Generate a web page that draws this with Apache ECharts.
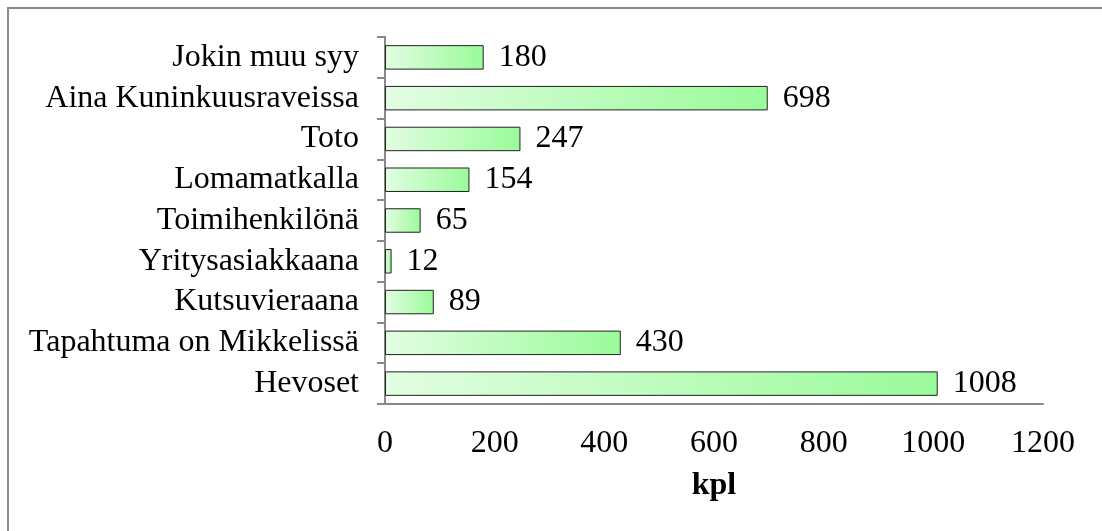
<!DOCTYPE html>
<html>
	<head>
		<meta charset="utf-8" />
		<title></title>
		<style>
			html, body { margin: 0; padding: 0; background: #fff; }
			#chart { width: 1102px; height: 531px; }
		</style>
	</head>
	<body>
		<div id="chart"></div>
	</body>
	<script src="https://cdn.jsdelivr.net/npm/echarts@6/dist/echarts.min.js" type="text/javascript" charset="utf-8"></script>
	<script type="text/javascript">
		// categories from bottom to top
		var categories = ["Hevoset", "Tapahtuma on Mikkelissä", "Kutsuvieraana", "Yritysasiakkaana",
			"Toimihenkilönä", "Lomamatkalla", "Toto", "Aina Kuninkuusraveissa", "Jokin muu syy"];
		var counts = [1008, 430, 89, 12, 65, 154, 247, 698, 180];
		var xTicks = [0, 200, 400, 600, 800, 1000, 1200];

		var font = '"Liberation Serif", "Times New Roman", serif';
		var axisGray = '#898989';
		var fs = 32;

		var myChart = echarts.init(document.getElementById('chart'));
		var option = {
			animation: false,
			textStyle: { fontFamily: font },
			graphic: [{
				type: 'rect',
				shape: { x: 8, y: 8, width: 1300, height: 700 },
				style: { fill: 'none', stroke: axisGray, lineWidth: 2 }
			}],
			grid: { left: 385, right: 59, top: 37, bottom: 127 },
			xAxis: {
				type: 'value',
				min: xTicks[0],
				max: xTicks[xTicks.length - 1],
				interval: 200,
				name: 'kpl',
				nameLocation: 'middle',
				nameGap: 66,
				nameTextStyle: { fontFamily: font, fontSize: fs, fontWeight: 'bold', color: '#000' },
				axisLine: { show: true, lineStyle: { color: axisGray, width: 2 } },
				axisTick: { show: false },
				splitLine: { show: false },
				axisLabel: {
					fontFamily: font, fontSize: fs, color: '#000', margin: 24,
					formatter: function (v) { return String(v); }
				}
			},
			yAxis: {
				type: 'category',
				data: categories,
				axisLine: { show: true, lineStyle: { color: axisGray, width: 2 } },
				axisTick: { show: true, interval: 0, length: 8, lineStyle: { color: axisGray, width: 2 } },
				axisLabel: { interval: 0, hideOverlap: false, fontFamily: font, fontSize: fs, color: '#000', margin: 26 }
			},
			series: [{
				type: 'bar',
				data: counts,
				barCategoryGap: '40%',
				itemStyle: {
					color: new echarts.graphic.LinearGradient(0, 0, 1, 0, [
						{ offset: 0, color: '#e2fde2' },
						{ offset: 1, color: '#9afb9a' }
					]),
					borderColor: '#222',
					borderWidth: 1
				},
				label: {
					show: true,
					position: 'right',
					distance: 15,
					fontFamily: font,
					fontSize: fs,
					color: '#000'
				}
			}]
		};
		myChart.setOption(option);
	</script>
</html>
